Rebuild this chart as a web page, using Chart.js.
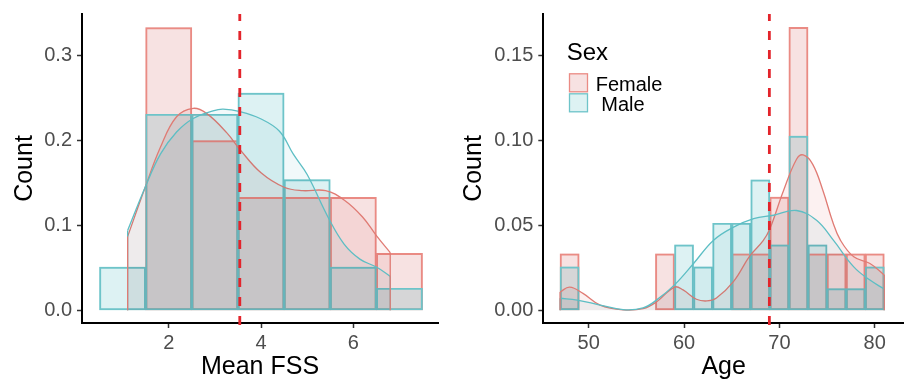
<!DOCTYPE html>
<html>
<head>
<meta charset="utf-8">
<script src="https://cdn.jsdelivr.net/npm/chart.js@4.4.0/dist/chart.umd.min.js"></script>
<style>
  body { margin: 0; background: #fff; }
  #wrap { position: relative; width: 904px; height: 382px; overflow: hidden; }
  canvas { position: absolute; top: 0; }
  #fssChart { left: 0; }
  #ageChart { left: 452px; }
</style>
</head>
<body>
<div id="wrap">
  <canvas id="fssChart" width="452" height="382"></canvas>
  <canvas id="ageChart" width="452" height="382"></canvas>
</div>
<script>
// ---- data ----
const sexLabels = ['Female', ' Male'];

// Mean FSS histogram, bin width 1 (bin centres)
const fssBins = [1, 2, 3, 4, 5, 6, 7];
const fssFemale = [null, 0.333, 0.2, 0.133, 0.133, 0.133, 0.067];
const fssMale = [0.051, 0.231, 0.231, 0.256, 0.154, 0.051, 0.026];

// Mean FSS density curves
const fssFemaleDensX = [1.11, 1.49, 1.82, 2.17, 2.53, 2.82, 3.26, 3.55, 4.0, 4.5, 4.9, 5.4, 5.8, 6.2, 6.5, 6.8];
const fssFemaleDensY = [0.087, 0.145, 0.192, 0.228, 0.238, 0.232, 0.209, 0.189, 0.162, 0.145, 0.141, 0.141, 0.130, 0.110, 0.088, 0.068];
const fssMaleDensX = [1.11, 1.49, 1.82, 2.17, 2.53, 2.96, 3.18, 3.55, 3.98, 4.4, 4.7, 5.0, 5.45, 5.8, 6.15, 6.5, 6.8];
const fssMaleDensY = [0.094, 0.145, 0.184, 0.210, 0.226, 0.235, 0.237, 0.234, 0.226, 0.211, 0.184, 0.160, 0.110, 0.078, 0.060, 0.051, 0.040];

// Age histogram, bin width 2 (bin centres)
const ageBins = [48, 50, 52, 54, 56, 58, 60, 62, 64, 66, 68, 70, 72, 74, 76, 78, 80];
const ageFemale = [0.0333, null, null, null, null, 0.0333, null, null, null, 0.0333, 0.0333, 0.0667, 0.1667, 0.0333, 0.0333, 0.0333, 0.0333];
const ageMale = [0.0256, null, null, null, null, null, 0.0385, 0.0256, 0.0513, 0.0513, 0.0769, 0.0385, 0.1026, 0.0385, 0.0128, 0.0128, 0.0256];

// Age density curves
const ageFemaleDensX = [47, 48, 49.4, 51.2, 53.6, 55.7, 57.1, 59, 59.9, 61.3, 62.4, 63.4, 65.2, 66.9, 68.3, 69, 70.4, 71.8, 72.5, 73.5, 74.6, 75.6, 76.4, 77.8, 79.5, 81];
const ageFemaleDensY = [0.0108, 0.0137, 0.0100, 0.0031, 0.0003, 0.0010, 0.0049, 0.0137, 0.0120, 0.0065, 0.0055, 0.0072, 0.0170, 0.0320, 0.0410, 0.0480, 0.0700, 0.0890, 0.0915, 0.0860, 0.0700, 0.0520, 0.0413, 0.0315, 0.0276, 0.0208];
const ageMaleDensX = [47, 48.8, 51.2, 53.6, 55.7, 57.1, 59, 61, 63.1, 65.2, 67.3, 69.4, 71.8, 73.9, 75.7, 77.8, 79.5, 81];
const ageMaleDensY = [0.0071, 0.0060, 0.0031, 0.0004, 0.0014, 0.0060, 0.0150, 0.0276, 0.0413, 0.0490, 0.0540, 0.0560, 0.0588, 0.0530, 0.0410, 0.0256, 0.0178, 0.0125];

// dashed reference lines
const fssMean = 3.54;
const ageMean = 68.95;

// ticks
const fssXTicks = [2, 4, 6];
const fssYTicks = [0, 0.1, 0.2, 0.3];
const fssYLabels = ['0.0', '0.1', '0.2', '0.3'];
const ageXTicks = [50, 60, 70, 80];
const ageYTicks = [0, 0.05, 0.10, 0.15];
const ageYLabels = ['0.00', '0.05', '0.10', '0.15'];

// ---- styles ----
const lineColors = ['#E07B74', '#5DBEC4'];
const barFills = ['#F7E2E2', '#DDF2F3'];
const barBorders = ['#EA8B84', '#6EC4C9'];
const densFills = ['#FCF1F1', '#F1F9FA'];

Chart.defaults.font.family = '"Liberation Sans", Arial, Helvetica, sans-serif';
Chart.defaults.animation = false;

// fills are blended with 'multiply' (pink x cyan = grey overlap), outlines and lines drawn normally
const blend = {
    id: 'blend',
    beforeDatasetsDraw(chart) {
        chart.ctx.save();
        chart.ctx.globalCompositeOperation = 'multiply';
    },
    beforeDatasetDraw(chart, args) {
        const ds = chart.data.datasets[args.index];
        if (ds.outline) chart.ctx.globalCompositeOperation = 'source-over';
    },
    afterDatasetDraw(chart) {
        chart.ctx.globalCompositeOperation = 'multiply';
    },
    afterDatasetsDraw(chart, args, opts) {
        const ctx = chart.ctx;
        ctx.globalCompositeOperation = 'source-over';
        // vertical ends of the density polygons
        const base = chart.scales.y.getPixelForValue(0);
        chart.data.datasets.forEach((ds, i) => {
            if (ds.type !== 'line') return;
            const pts = chart.getDatasetMeta(i).data;
            ctx.strokeStyle = ds.borderColor;
            ctx.lineWidth = ds.borderWidth;
            [pts[0], pts[pts.length - 1]].forEach(p => {
                ctx.beginPath();
                ctx.moveTo(p.x, p.y);
                ctx.lineTo(p.x, base);
                ctx.stroke();
            });
        });
        ctx.restore();

        // dashed mean line
        const { top, bottom } = chart.chartArea;
        const x = chart.scales.x.getPixelForValue(opts.value);
        ctx.save();
        ctx.strokeStyle = '#E3242B';
        ctx.lineWidth = 2.8;
        ctx.setLineDash([9, 10]);
        ctx.beginPath();
        ctx.moveTo(x, bottom + 2);
        ctx.lineTo(x, top);
        ctx.stroke();
        ctx.restore();
    }
};

const sexLegend = {
    id: 'sexLegend',
    afterDraw(chart) {
        const ctx = chart.ctx;
        ctx.save();
        ctx.fillStyle = '#000';
        ctx.textBaseline = 'alphabetic';
        ctx.font = '24px "Liberation Sans", Arial, sans-serif';
        ctx.fillText('Sex', 114.7, 60);
        ctx.font = '20px "Liberation Sans", Arial, sans-serif';
        sexLabels.forEach((lab, i) => {
            ctx.fillStyle = barFills[i];
            ctx.fillRect(117.5, 73.8 + 20 * i, 18, 18);
            ctx.strokeStyle = barBorders[i];
            ctx.lineWidth = 1.3;
            ctx.strokeRect(117.5, 73.8 + 20 * i, 18, 18);
            ctx.fillStyle = '#000';
            ctx.fillText(lab, 143.7, 90.6 + 20.6 * i);
        });
        ctx.restore();
    }
};

function makePanel(id, p) {
    const datasets = [];
    // male first so its outlines end up on top of the female ones
    for (let s = 1; s >= 0; s--) {
        const barData = p.bins.map((b, i) => ({ x: b, y: p.vals[s][i] }));
        const barCommon = { type: 'bar', label: sexLabels[s], data: barData, borderSkipped: false,
            barPercentage: 1, categoryPercentage: 1, grouped: false };
        // histogram fill
        datasets.push(Object.assign({}, barCommon, {
            backgroundColor: barFills[s], borderWidth: 0, order: 3
        }));
        // histogram outline
        datasets.push(Object.assign({}, barCommon, {
            backgroundColor: 'rgba(0,0,0,0)', borderColor: barBorders[s], borderWidth: 1.3,
            outline: true, order: 2
        }));
        // density curve
        datasets.push({
            type: 'line',
            label: sexLabels[s] + ' density',
            data: p.densX[s].map((x, i) => ({ x: x, y: p.densY[s][i] })),
            borderColor: lineColors[s],
            backgroundColor: densFills[s],
            borderWidth: 1.3,
            fill: 'origin',
            tension: 0.4,
            pointRadius: 0,
            outline: true,
            order: 1
        });
    }

    return new Chart(document.getElementById(id), {
        type: 'bar',
        data: { datasets: datasets },
        plugins: p.legend ? [blend, sexLegend] : [blend],
        options: {
            responsive: false,
            layout: { padding: { top: 14, right: p.padRight, left: 0, bottom: 0 } },
            plugins: {
                legend: { display: false },
                tooltip: { enabled: false },
                blend: { value: p.mean }
            },
            scales: {
                x: {
                    type: 'linear',
                    offset: false,
                    min: p.xMin,
                    max: p.xMax,
                    afterBuildTicks: s => { s.ticks = p.xTicks.map(v => ({ value: v })); },
                    ticks: { font: { size: 20 }, color: '#4D4D4D', padding: 3, maxRotation: 0, autoSkip: false },
                    grid: { display: true, offset: false, drawOnChartArea: false, drawTicks: true, tickLength: 5, tickColor: '#333', tickWidth: 1.5 },
                    border: { display: true, color: '#000', width: 2 },
                    title: { display: true, text: p.xTitle, font: { size: 25 }, color: '#000', padding: { top: 0, bottom: 0 } },
                    afterFit: s => { s.height = 59; s.paddingLeft = 0; s.paddingRight = 0; }
                },
                y: {
                    type: 'linear',
                    min: p.yMin,
                    max: p.yMax,
                    afterBuildTicks: s => { s.ticks = p.yTicks.map(v => ({ value: v })); },
                    ticks: { font: { size: 20 }, color: '#4D4D4D', padding: 5, callback: (v, i) => p.yLabels[i] },
                    grid: { display: true, drawOnChartArea: false, drawTicks: true, tickLength: 5, tickColor: '#333', tickWidth: 1.5 },
                    border: { display: true, color: '#000', width: 2 },
                    title: { display: true, text: 'Count', font: { size: 25 }, color: '#000', padding: { top: p.yTitlePad, bottom: 0 } },
                    afterFit: s => { s.width = p.yWidth; s.paddingTop = 0; s.paddingBottom = 0; }
                }
            }
        }
    });
}

makePanel('fssChart', {
    bins: fssBins, vals: [fssFemale, fssMale],
    densX: [fssFemaleDensX, fssMaleDensX], densY: [fssFemaleDensY, fssMaleDensY],
    mean: fssMean, xMin: 0.121, xMax: 7.835, xTicks: fssXTicks, xTitle: 'Mean FSS',
    yMin: -0.01496, yMax: 0.3491, yTicks: fssYTicks, yLabels: fssYLabels,
    yWidth: 82, yTitlePad: 10, padRight: 14, legend: false
});

makePanel('ageChart', {
    bins: ageBins, vals: [ageFemale, ageMale],
    densX: [ageFemaleDensX, ageMaleDensX], densY: [ageFemaleDensY, ageMaleDensY],
    mean: ageMean, xMin: 45.24, xMax: 83.07, xTicks: ageXTicks, xTitle: 'Age',
    yMin: -0.00748, yMax: 0.17456, yTicks: ageYTicks, yLabels: ageYLabels,
    yWidth: 91.3, yTitlePad: 7, padRight: 0, legend: true
});
</script>
</body>
</html>
